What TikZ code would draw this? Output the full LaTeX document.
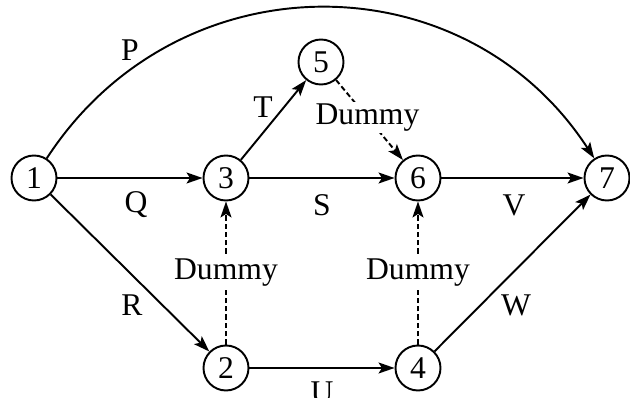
\documentclass[tikz,border=0pt]{standalone}
\usepackage{fontspec}
\setmainfont{Liberation Serif}
\usetikzlibrary{arrows.meta,positioning}

\tikzset{
  event/.style={circle, draw, line width=1.1pt, minimum size=0.9cm, inner sep=0pt},
  act/.style={line width=1.1pt, -{Stealth[length=0.32cm, width=0.22cm, inset=0.07cm]}},
  dummy/.style={act, dash pattern=on 3pt off 1.7pt},
  lbl/.style={inner sep=1pt},
  dlbl/.style={fill=white, inner sep=1pt}
}

\begin{document}
\begin{tikzpicture}[font=\fontsize{18}{21}\selectfont]
  \useasboundingbox (0,0) rectangle (12.6,7.96);

  % events
  \node[event] (n1) at (0.68, 4.4) {1};
  \node[event] (n3) at (4.52, 4.4) {3};
  \node[event] (n6) at (8.36, 4.4) {6};
  \node[event] (n7) at (12.14, 4.4) {7};
  \node[event] (n5) at (6.42, 6.72) {5};
  \node[event] (n2) at (4.52, 0.6) {2};
  \node[event] (n4) at (8.36, 0.6) {4};

  % activities
  \draw[act] (n1) to[out=57, in=123, looseness=1.12] (n7);
  \draw[act] (n1) -- (n3);
  \draw[act] (n1) -- (n2);
  \draw[act] (n3) -- (n5);
  \draw[act] (n3) -- (n6);
  \draw[act] (n6) -- (n7);
  \draw[act] (n2) -- (n4);
  \draw[act] (n4) -- (n7);

  % activity labels
  \node[lbl] (lP) at (2.6, 6.96) {P};
  \node[lbl] (lQ) at (2.72, 3.86) {Q};
  \node[lbl] (lR) at (2.64, 1.86) {R};
  \node[lbl] (lT) at (5.26, 5.82) {T};
  \node[lbl] (lS) at (6.44, 3.86) {S};
  \node[lbl] (lV) at (10.28, 3.86) {V};
  \node[lbl] (lW) at (10.32, 1.86) {W};
  \node[lbl] (lU) at (6.44, 0.12) {U};

  % dummy activities
  \draw[dummy] (n2) -- node[dlbl] (d23) {Dummy} (n3);
  \draw[dummy] (n4) -- node[dlbl] (d46) {Dummy} (n6);
  \draw[dummy] (n5) -- node[dlbl, pos=0.47] (d56) {Dummy} (n6);
\end{tikzpicture}
\end{document}
